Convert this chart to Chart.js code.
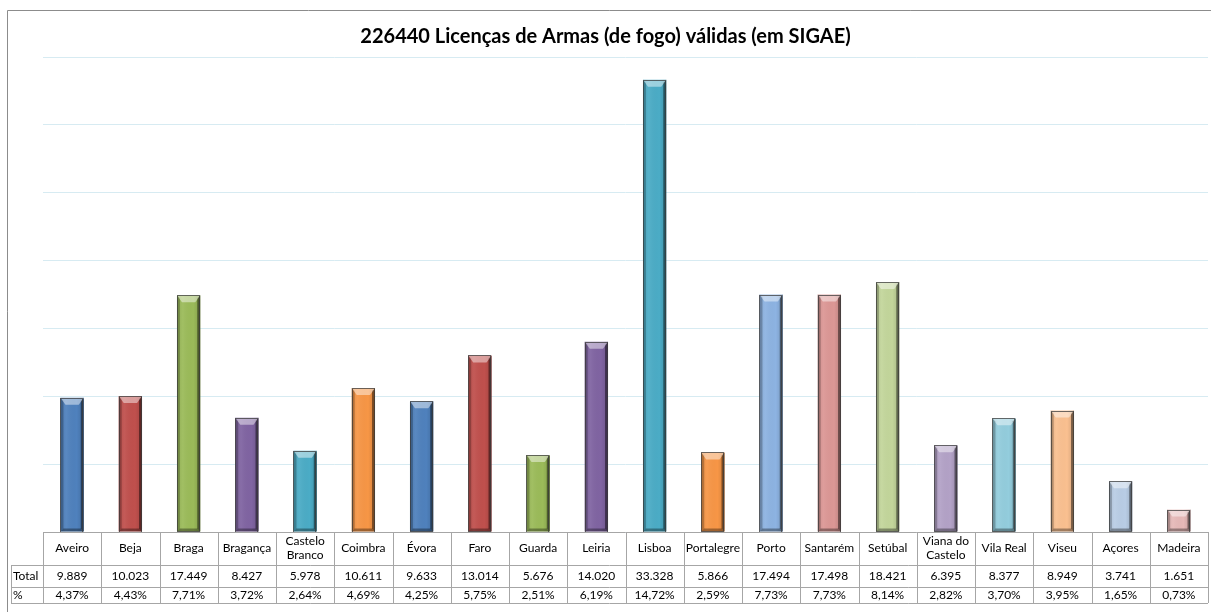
<!DOCTYPE html>
<html>
<head>
<meta charset="utf-8">
<script src="https://cdn.jsdelivr.net/npm/chart.js@4/dist/chart.umd.min.js"></script>
<style>
  html, body { margin: 0; padding: 0; background: #fff; }
  #wrap { width: 1211px; height: 612px; position: relative; }
</style>
</head>
<body>
<div id="wrap"><canvas id="chart" width="1211" height="612"></canvas></div>
<script>
const TITLE = "226440 Licenças de Armas (de fogo) válidas (em SIGAE)";

const districts = [
  "Aveiro", "Beja", "Braga", "Bragança", ["Castelo", "Branco"], "Coimbra", "Évora",
  "Faro", "Guarda", "Leiria", "Lisboa", "Portalegre", "Porto", "Santarém", "Setúbal",
  ["Viana do", "Castelo"], "Vila Real", "Viseu", "Açores", "Madeira",
];
const totals = [
  9889, 10023, 17449, 8427, 5978, 10611, 9633, 13014, 5676, 14020,
  33328, 5866, 17494, 17498, 18421, 6395, 8377, 8949, 3741, 1651,
];
const percents = [
  4.37, 4.43, 7.71, 3.72, 2.64, 4.69, 4.25, 5.75, 2.51, 6.19,
  14.72, 2.59, 7.73, 7.73, 8.14, 2.82, 3.70, 3.95, 1.65, 0.73,
];
const barColors = [
  "#4f81bd", "#c0504d", "#9bbb59", "#8064a2", "#4bacc6", "#f79646",
  "#4f81bd", "#c0504d", "#9bbb59", "#8064a2", "#4bacc6", "#f79646",
  "#8db3e2", "#dc9795", "#c3d69b", "#b3a2c7", "#93cddd", "#fac090",
  "#b9cde5", "#e6b9b8",
];
const rowLabels = ["Total", "%"];

const FONT = "Lato, 'Open Sans', sans-serif";

const fmtThousands = (n) => String(n).replace(/\B(?=(\d{3})+(?!\d))/g, ".");
const fmtPct = (p) => p.toFixed(2).replace(".", ",") + "%";

// frame + white background
const framePlugin = {
  id: "frame",
  beforeDraw(chart) {
    const c = chart.ctx;
    c.save();
    c.fillStyle = "#fff";
    c.fillRect(0, 0, chart.width, chart.height);
    c.strokeStyle = "#8c8c8c";
    c.lineWidth = 1;
    c.beginPath();
    c.moveTo(7.5, chart.height);
    c.lineTo(7.5, 10.5);
    c.lineTo(chart.width, 10.5);
    c.stroke();
    c.restore();
  },
};

// fake excel bevel on each bar
const bevelPlugin = {
  id: "bevel",
  afterDatasetsDraw(chart) {
    const c = chart.ctx;
    const meta = chart.getDatasetMeta(0);
    c.save();
    meta.data.forEach((el) => {
      const w = el.width;
      const l = el.x - w / 2, r = el.x + w / 2;
      const t = el.y, b = el.base;
      const d = 3;
      const poly = (pts, fill) => {
        c.beginPath();
        c.moveTo(pts[0][0], pts[0][1]);
        for (let i = 1; i < pts.length; i++) c.lineTo(pts[i][0], pts[i][1]);
        c.closePath();
        c.fillStyle = fill;
        c.fill();
      };
      // soft horizontal shading
      const g = c.createLinearGradient(l, 0, r, 0);
      g.addColorStop(0, "rgba(0,0,0,0.10)");
      g.addColorStop(0.25, "rgba(255,255,255,0.06)");
      g.addColorStop(0.7, "rgba(0,0,0,0)");
      g.addColorStop(1, "rgba(0,0,0,0.15)");
      c.fillStyle = g;
      c.fillRect(l, t, w, b - t);
      poly([[l, t], [l + d, t + d], [l + d, b - d], [l, b]], "rgba(0,0,0,0.22)");
      poly([[r, t], [r - d, t + d], [r - d, b - d], [r, b]], "rgba(0,0,0,0.45)");
      poly([[l, b], [l + d, b - d], [r - d, b - d], [r, b]], "rgba(0,0,0,0.35)");
      poly([[l, t], [r, t], [r - d - 2, t + d + 4], [l + d + 2, t + d + 4]], "rgba(255,255,255,0.45)");
      c.strokeStyle = "rgba(60,60,60,0.75)";
      c.lineWidth = 1;
      c.strokeRect(Math.round(l) + 0.5, Math.round(t) + 0.5, Math.round(w) - 1, Math.round(b - t));
    });
    c.restore();
  },
};

// data table under the plot
const tablePlugin = {
  id: "dataTable",
  afterDraw(chart) {
    const c = chart.ctx;
    const x = chart.scales.x;
    const area = chart.chartArea;
    const step = x.getPixelForValue(1) - x.getPixelForValue(0);
    const left = area.left, right = area.right;
    const yHead = area.bottom, yTot = yHead + 33, yPct = yTot + 22, yEnd = yPct + 16;
    const labelLeft = 11;
    const px = (v) => Math.round(v) + 0.5;

    c.save();
    c.strokeStyle = "#a6a6a6";
    c.lineWidth = 1;
    c.beginPath();
    c.moveTo(left, px(yHead)); c.lineTo(right, px(yHead));
    [yTot, yPct, yEnd].forEach((y) => { c.moveTo(labelLeft, px(y)); c.lineTo(right, px(y)); });
    c.moveTo(px(labelLeft), yTot); c.lineTo(px(labelLeft), yEnd);
    for (let i = 0; i <= districts.length; i++) {
      const xx = px(x.getPixelForValue(i) - step / 2);
      c.moveTo(xx, yHead); c.lineTo(xx, yEnd);
    }
    c.stroke();

    c.fillStyle = "#000";
    c.font = "12px " + FONT;
    c.textBaseline = "middle";
    c.textAlign = "left";
    c.fillText(rowLabels[0], labelLeft + 2, (yTot + yPct) / 2);
    c.fillText(rowLabels[1], labelLeft + 2, (yPct + yEnd) / 2);
    c.textAlign = "center";
    districts.forEach((name, i) => {
      const cx = x.getPixelForValue(i);
      if (Array.isArray(name)) {
        c.fillText(name[0], cx, yHead + 9);
        c.fillText(name[1], cx, yHead + 23);
      } else {
        c.fillText(name, cx, (yHead + yTot) / 2);
      }
      c.fillText(fmtThousands(totals[i]), cx, (yTot + yPct) / 2);
      c.fillText(fmtPct(percents[i]), cx, (yPct + yEnd) / 2);
    });
    c.restore();
  },
};

new Chart(document.getElementById("chart"), {
  type: "bar",
  data: {
    labels: districts,
    datasets: [{
      label: "Total",
      data: totals,
      backgroundColor: barColors,
      borderWidth: 0,
      barPercentage: 0.4,
      categoryPercentage: 1,
    }],
  },
  options: {
    responsive: false,
    animation: false,
    layout: { padding: { left: 3, right: 3, top: 0, bottom: 80 } },
    scales: {
      x: { display: false },
      y: {
        display: true,
        min: 0,
        max: 35000,
        afterFit: (axis) => { axis.width = 40; },
        ticks: { display: false, stepSize: 5000 },
        border: { display: false },
        grid: { color: "#d7ebf2", lineWidth: 1, drawTicks: false },
      },
    },
    plugins: {
      legend: { display: false },
      tooltip: { enabled: false },
      title: {
        display: true,
        text: TITLE,
        color: "#000",
        font: { family: FONT, size: 20, weight: "bold" },
        padding: { top: 25, bottom: 8 },
      },
    },
  },
  plugins: [framePlugin, bevelPlugin, tablePlugin],
});
</script>
</body>
</html>
